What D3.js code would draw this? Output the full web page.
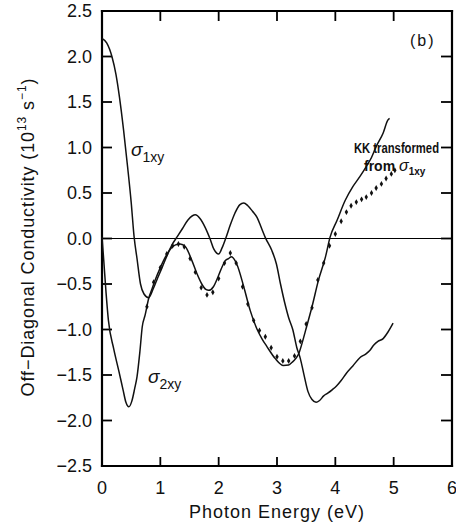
<!DOCTYPE html>
<html>
<head>
<meta charset="utf-8">
<script src="https://cdn.jsdelivr.net/npm/d3@7"></script>
<style>
  html, body { margin: 0; padding: 0; background: #fff; }
  svg { display: block; }
  text { font-family: "Liberation Sans", Arial, Helvetica, sans-serif; fill: #111; }
</style>
</head>
<body>
<svg id="chart" width="456" height="527"></svg>
<script>
// Photon energy (eV) vs off-diagonal conductivity (10^13 s^-1)
const sigma1xy = [
  [0, 2.20], [0.08, 2.15], [0.17, 2.00], [0.24, 1.80], [0.30, 1.55], [0.37, 1.19],
  [0.44, 0.78], [0.50, 0.40], [0.55, 0.02], [0.60, -0.22], [0.66, -0.50], [0.72, -0.61],
  [0.80, -0.65], [0.88, -0.55], [0.95, -0.44], [1.03, -0.32], [1.12, -0.18], [1.20, -0.07],
  [1.29, 0.02], [1.38, 0.11], [1.47, 0.20], [1.55, 0.25], [1.60, 0.26], [1.68, 0.22],
  [1.77, 0.12], [1.85, 0.00], [1.92, -0.12], [2.00, -0.17], [2.06, -0.10], [2.12, 0.00],
  [2.20, 0.15], [2.28, 0.28], [2.36, 0.37], [2.43, 0.39], [2.50, 0.36], [2.58, 0.30],
  [2.66, 0.23], [2.73, 0.12], [2.80, 0.01], [2.91, -0.13], [2.99, -0.28], [3.06, -0.50],
  [3.13, -0.70], [3.20, -0.87], [3.27, -1.00], [3.34, -1.20], [3.40, -1.32], [3.46, -1.49],
  [3.53, -1.68], [3.60, -1.77], [3.67, -1.80], [3.73, -1.78], [3.80, -1.73], [3.87, -1.70],
  [3.95, -1.66], [4.02, -1.62], [4.10, -1.56], [4.19, -1.48], [4.30, -1.40], [4.42, -1.31],
  [4.52, -1.27], [4.59, -1.23], [4.66, -1.17], [4.73, -1.13], [4.82, -1.10], [4.90, -1.03],
  [4.99, -0.93]
];

const sigma2xy = [
  [0, 0.02], [0.03, -0.24], [0.07, -0.60], [0.11, -0.90], [0.20, -1.21], [0.29, -1.46],
  [0.36, -1.66], [0.41, -1.80], [0.46, -1.85], [0.51, -1.79], [0.56, -1.65], [0.60, -1.52],
  [0.65, -1.24], [0.69, -0.97], [0.74, -0.84], [0.80, -0.66], [0.86, -0.55], [0.91, -0.46],
  [1.00, -0.32], [1.09, -0.20], [1.18, -0.11], [1.26, -0.07], [1.34, -0.06], [1.43, -0.09],
  [1.54, -0.24], [1.63, -0.39], [1.71, -0.50], [1.78, -0.56], [1.83, -0.57], [1.91, -0.53],
  [1.99, -0.42], [2.06, -0.31], [2.12, -0.24], [2.17, -0.22], [2.22, -0.20], [2.31, -0.28],
  [2.43, -0.53], [2.54, -0.79], [2.66, -1.00], [2.75, -1.11], [2.83, -1.19], [2.97, -1.32],
  [3.11, -1.395], [3.20, -1.39], [3.26, -1.36], [3.32, -1.32], [3.37, -1.27], [3.43, -1.15],
  [3.49, -1.01], [3.60, -0.75], [3.71, -0.46], [3.83, -0.205], [3.91, 0.015], [4.03, 0.20],
  [4.17, 0.42], [4.30, 0.57], [4.42, 0.68], [4.53, 0.79], [4.62, 0.89], [4.70, 1.01],
  [4.82, 1.16], [4.90, 1.30], [4.93, 1.32]
];

const kkFromSigma1 = [
  [0.77, -0.75], [0.885, -0.48], [1.0, -0.32], [1.11, -0.17], [1.21, -0.08], [1.31, -0.06],
  [1.41, -0.09], [1.51, -0.22], [1.60, -0.37], [1.70, -0.54], [1.80, -0.62], [1.90, -0.59],
  [2.00, -0.44], [2.10, -0.27], [2.20, -0.16], [2.30, -0.27], [2.41, -0.53], [2.50, -0.72],
  [2.60, -0.90], [2.70, -1.01], [2.80, -1.08], [2.90, -1.20], [3.00, -1.30], [3.10, -1.345],
  [3.20, -1.345], [3.30, -1.29], [3.40, -1.13], [3.50, -0.94], [3.60, -0.76], [3.70, -0.455],
  [3.80, -0.27], [3.90, -0.08], [4.00, 0.05], [4.10, 0.19], [4.19, 0.29], [4.27, 0.36],
  [4.36, 0.40], [4.45, 0.43], [4.53, 0.455], [4.62, 0.50], [4.70, 0.555], [4.79, 0.60],
  [4.87, 0.66], [4.96, 0.71], [5.02, 0.75]
];

const xTicks = [0, 1, 2, 3, 4, 5, 6];
const yTicks = [-2.5, -2.0, -1.5, -1.0, -0.5, 0.0, 0.5, 1.0, 1.5, 2.0, 2.5];

const svg = d3.select("#chart");
const plotL = 102, plotT = 11, plotR = 452, plotB = 466;

const x = d3.scaleLinear().domain([0, 6]).range([plotL, plotR]);
const y = d3.scaleLinear().domain([-2.5, 2.5]).range([plotB, plotT]);

const fmtY = v => (v < 0 ? "\u2212" : "") + Math.abs(v).toFixed(1);

// plot frame, drawn as four plain lines
const edges = [
  [plotL, plotT, plotR, plotT],
  [plotR, plotT, plotR, plotB],
  [plotL, plotB, plotR, plotB],
  [plotL, plotT, plotL, plotB]
];
svg.append("g").selectAll("line").data(edges).join("line")
  .attr("x1", d => d[0]).attr("y1", d => d[1])
  .attr("x2", d => d[2]).attr("y2", d => d[3])
  .attr("stroke", "#000").attr("stroke-width", 2.2).attr("stroke-linecap", "square");

// inward ticks on all four sides
const yTickMarks = yTicks.slice(1, -1);
const xTickMarks = xTicks.slice(1, -1);
svg.append("g").selectAll("line").data(yTickMarks).join("line")
  .attr("x1", plotL).attr("x2", plotL + 10)
  .attr("y1", d => y(d)).attr("y2", d => y(d))
  .attr("stroke", "#000").attr("stroke-width", 1.8);
svg.append("g").selectAll("line").data(yTickMarks).join("line")
  .attr("x1", plotR).attr("x2", plotR - 11)
  .attr("y1", d => y(d)).attr("y2", d => y(d))
  .attr("stroke", "#000").attr("stroke-width", 1.8);
svg.append("g").selectAll("line").data(xTickMarks).join("line")
  .attr("x1", d => x(d)).attr("x2", d => x(d))
  .attr("y1", plotT).attr("y2", plotT + 10)
  .attr("stroke", "#000").attr("stroke-width", 1.8);
svg.append("g").selectAll("line").data(xTickMarks).join("line")
  .attr("x1", d => x(d)).attr("x2", d => x(d))
  .attr("y1", plotB).attr("y2", plotB - 9)
  .attr("stroke", "#000").attr("stroke-width", 1.8);

// tick labels
svg.append("g").selectAll("text").data(yTicks).join("text")
  .attr("x", plotL - 10).attr("y", d => y(d)).attr("dy", "0.36em")
  .attr("text-anchor", "end").attr("font-size", 18)
  .text(fmtY);
svg.append("g").selectAll("text").data(xTicks).join("text")
  .attr("x", d => x(d)).attr("y", plotB + 28)
  .attr("text-anchor", "middle").attr("font-size", 18)
  .text(d => d);

// zero line
svg.append("line").attr("x1", plotL).attr("x2", plotR).attr("y1", y(0)).attr("y2", y(0))
  .attr("stroke", "#000").attr("stroke-width", 1.2);

const line = d3.line().x(d => x(d[0])).y(d => y(d[1])).curve(d3.curveMonotoneX);

svg.append("path").datum(sigma1xy).attr("d", line)
  .attr("fill", "none").attr("stroke", "#111").attr("stroke-width", 1.5);
svg.append("path").datum(sigma2xy).attr("d", line)
  .attr("fill", "none").attr("stroke", "#111").attr("stroke-width", 1.5);

const diamond = d3.symbol().type(d3.symbolDiamond).size(10);
svg.append("g").selectAll("path").data(kkFromSigma1).join("path")
  .attr("d", diamond)
  .attr("transform", d => `translate(${x(d[0])},${y(d[1])})`)
  .attr("fill", "#111");

// axis titles
svg.append("text")
  .attr("transform", "translate(34,237) rotate(-90)")
  .attr("text-anchor", "middle").attr("font-size", 18).attr("letter-spacing", 0.9)
  .call(t => {
    t.append("tspan").text("Off\u2212Diagonal  Conductivity  (10");
    t.append("tspan").attr("font-size", 12).attr("dy", -8).text("13");
    t.append("tspan").attr("dy", 8).text(" s");
    t.append("tspan").attr("font-size", 12).attr("dy", -8).text("\u22121");
    t.append("tspan").attr("dy", 8).text(")");
  });

svg.append("text")
  .attr("x", 277).attr("y", 518)
  .attr("text-anchor", "middle").attr("font-size", 18).attr("letter-spacing", 1)
  .text("Photon Energy (eV)");

// curve labels
function sigmaLabel(px, py, sub, size, subSize) {
  const t = svg.append("text").attr("x", px).attr("y", py).attr("font-size", size);
  t.append("tspan").attr("font-style", "italic").text("\u03c3");
  t.append("tspan").attr("font-size", subSize).attr("dy", 6).text(sub);
  return t;
}
sigmaLabel(131, 156, "1xy", 19, 14);
sigmaLabel(148, 383, "2xy", 19, 14);

svg.append("text").attr("x", 354).attr("y", 153)
  .attr("font-size", 14).attr("font-weight", 600)
  .attr("textLength", 85).attr("lengthAdjust", "spacingAndGlyphs")
  .text("KK transformed");
const ft = svg.append("text").attr("x", 364).attr("y", 171)
  .attr("font-size", 14).attr("font-weight", 600);
ft.append("tspan").text("from ");
ft.append("tspan").attr("font-style", "italic").attr("font-weight", 400).attr("font-size", 16).text("\u03c3");
ft.append("tspan").attr("font-size", 10).attr("dy", 4).text("1xy");

svg.append("text").attr("x", 410).attr("y", 46)
  .attr("font-size", 16).attr("letter-spacing", 2)
  .text("(b)");
</script>
</body>
</html>
